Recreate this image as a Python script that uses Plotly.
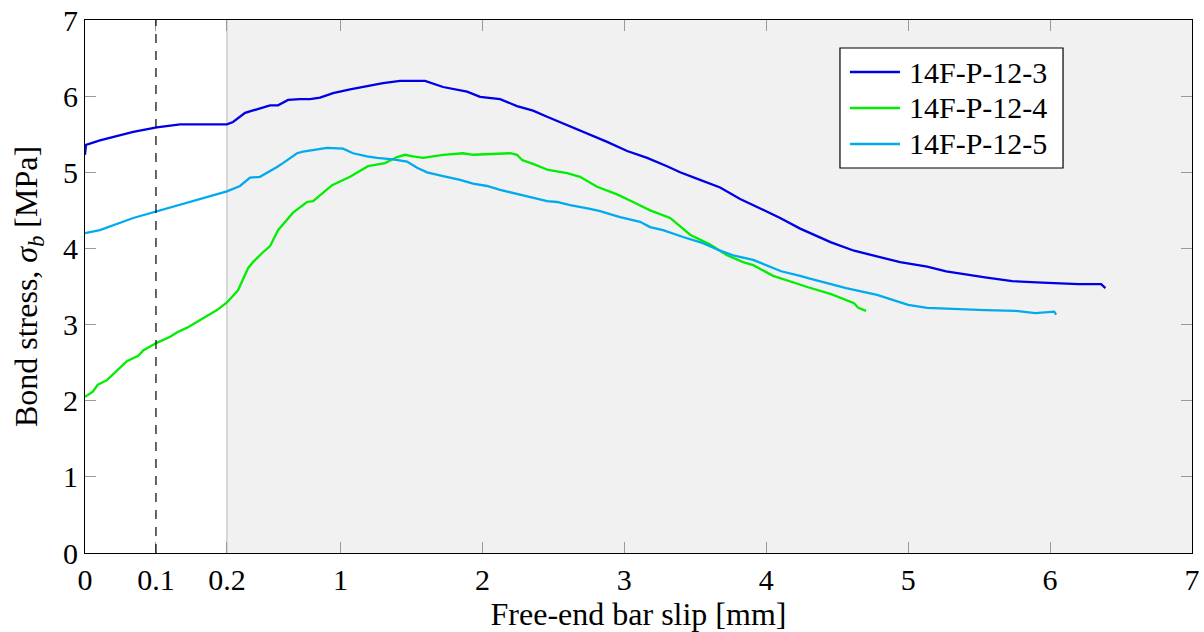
import plotly.graph_objects as go

# Free-end bar slip [mm] and bond stress [MPa] for each specimen
slip_p12_3 = [0.000, 0.0014, 0.021, 0.068, 0.101, 0.134, 0.200, 0.243, 0.328, 0.384, 0.504,
              0.560, 0.631, 0.715, 0.786, 0.856, 0.948, 1.068, 1.187, 1.300, 1.420, 1.490,
              1.596, 1.723, 1.892, 1.984, 2.125, 2.244, 2.357, 2.456, 2.597, 2.738, 2.879,
              3.020, 3.161, 3.301, 3.393, 3.534, 3.675, 3.816, 3.957, 4.098, 4.239, 4.457,
              4.619, 4.943, 5.134, 5.268, 5.542, 5.733, 5.944, 6.200, 6.360, 6.390]
stress_p12_3 = [5.23, 5.36, 5.42, 5.53, 5.59, 5.63, 5.63, 5.66, 5.78, 5.81, 5.88,
                5.88, 5.95, 5.96, 5.96, 5.98, 6.04, 6.09, 6.13, 6.17, 6.20, 6.20,
                6.20, 6.12, 6.06, 5.99, 5.96, 5.87, 5.81, 5.73, 5.62, 5.52, 5.40,
                5.28, 5.19, 5.08, 5.00, 4.90, 4.80, 4.65, 4.53, 4.40, 4.26, 4.08,
                3.97, 3.82, 3.76, 3.70, 3.62, 3.57, 3.55, 3.53, 3.53, 3.48]

slip_p12_4 = [0.000, 0.011, 0.018, 0.031, 0.059, 0.075, 0.082, 0.101, 0.120, 0.130, 0.144,
              0.158, 0.169, 0.186, 0.200, 0.278, 0.349, 0.384, 0.454, 0.504, 0.560, 0.666,
              0.764, 0.807, 0.941, 0.976, 1.068, 1.194, 1.314, 1.399, 1.455, 1.511, 1.582,
              1.723, 1.864, 1.934, 2.195, 2.244, 2.280, 2.357, 2.463, 2.597, 2.688, 2.808,
              2.949, 3.062, 3.182, 3.323, 3.464, 3.605, 3.724, 3.837, 3.908, 4.049, 4.239,
              4.295, 4.457, 4.619, 4.648, 4.704]
stress_p12_4 = [2.05, 2.12, 2.21, 2.27, 2.52, 2.59, 2.66, 2.76, 2.84, 2.90, 2.96,
                3.04, 3.10, 3.19, 3.29, 3.45, 3.74, 3.82, 3.95, 4.03, 4.24, 4.47,
                4.61, 4.62, 4.83, 4.86, 4.94, 5.08, 5.12, 5.20, 5.23, 5.21, 5.19,
                5.23, 5.25, 5.23, 5.25, 5.23, 5.16, 5.11, 5.03, 4.99, 4.94, 4.81,
                4.71, 4.61, 4.50, 4.40, 4.18, 4.05, 3.91, 3.82, 3.78, 3.64, 3.52,
                3.49, 3.40, 3.28, 3.22, 3.18]

slip_p12_5 = [0.000, 0.021, 0.068, 0.101, 0.134, 0.172, 0.200, 0.292, 0.363, 0.433, 0.483,
              0.553, 0.595, 0.694, 0.736, 0.807, 0.905, 1.018, 1.089, 1.187, 1.258, 1.371,
              1.469, 1.540, 1.610, 1.723, 1.843, 1.934, 2.033, 2.125, 2.216, 2.315, 2.456,
              2.526, 2.618, 2.759, 2.829, 2.970, 3.111, 3.182, 3.273, 3.414, 3.555, 3.675,
              3.767, 3.908, 4.006, 4.105, 4.239, 4.295, 4.563, 4.781, 5.000, 5.134, 5.542,
              5.754, 5.895, 6.029, 6.043]
stress_p12_5 = [4.20, 4.24, 4.40, 4.49, 4.58, 4.68, 4.75, 4.82, 4.93, 4.94, 4.99,
                5.07, 5.12, 5.25, 5.27, 5.29, 5.32, 5.31, 5.25, 5.21, 5.19, 5.17,
                5.14, 5.06, 5.00, 4.95, 4.90, 4.85, 4.82, 4.77, 4.73, 4.68, 4.62,
                4.61, 4.57, 4.52, 4.49, 4.41, 4.35, 4.28, 4.24, 4.15, 4.07, 3.97,
                3.91, 3.85, 3.78, 3.70, 3.64, 3.61, 3.48, 3.39, 3.26, 3.22, 3.19,
                3.18, 3.15, 3.17, 3.13]

series_names = ["14F-P-12-3", "14F-P-12-4", "14F-P-12-5"]
series_colors = ["#0000e6", "#00ee00", "#00aaee"]

# Tick positions on the slip axis (mm) and their labels
x_ticks_mm = [0, 0.1, 0.2, 1, 2, 3, 4, 5, 6, 7]
x_tick_labels = ["0", "0.1", "0.2", "1", "2", "3", "4", "5", "6", "7"]
y_ticks = [0, 1, 2, 3, 4, 5, 6, 7]

# The first 0.2 mm is stretched to one full unit of axis length
BREAK = 0.2


def axis_pos(x):
    return x / BREAK if x <= BREAK else x - BREAK + 1.0


FONT = "Liberation Serif"
FS_TICK = 30
FS_TITLE = 32
FS_LEGEND = 30

fig = go.Figure()
for xs, ys, name, color in zip([slip_p12_3, slip_p12_4, slip_p12_5],
                               [stress_p12_3, stress_p12_4, stress_p12_5],
                               series_names, series_colors):
    fig.add_trace(go.Scatter(x=[axis_pos(v) for v in xs], y=ys, mode="lines", name=name,
                             line=dict(color=color, width=2.3), showlegend=False))

x_max = axis_pos(7)

# Shaded region beyond 0.2 mm, its boundary, and the 0.1 mm marker
fig.add_shape(type="rect", xref="x", yref="y", x0=axis_pos(BREAK), x1=x_max, y0=0, y1=7,
              fillcolor="#f1f1f1", line_width=0, layer="below")
fig.add_shape(type="line", xref="x", yref="y", x0=axis_pos(BREAK), x1=axis_pos(BREAK), y0=0, y1=7,
              line=dict(color="#c4c4c4", width=1.2), layer="below")
fig.add_shape(type="line", xref="x", yref="y", x0=axis_pos(0.1), x1=axis_pos(0.1), y0=0, y1=7,
              line=dict(color="black", width=1.2, dash="9px,8px"), layer="above")

# Legend box
lg_x0, lg_x1, lg_y0, lg_y1 = 0.682, 0.8835, 0.7223, 0.9475
fig.add_shape(type="rect", xref="paper", yref="paper", x0=lg_x0, x1=lg_x1, y0=lg_y0, y1=lg_y1,
              fillcolor="white", line=dict(color="black", width=1.2), layer="above")
row_y = [0.9024, 0.8349, 0.7674]
for ry, name, color in zip(row_y, series_names, series_colors):
    fig.add_shape(type="line", xref="paper", yref="paper", x0=0.691, x1=0.7362, y0=ry, y1=ry,
                  line=dict(color=color, width=2.3), layer="above")
    fig.add_annotation(xref="paper", yref="paper", x=0.7425, y=ry, text=name, showarrow=False,
                       xanchor="left", yanchor="middle",
                       font=dict(family=FONT, size=FS_LEGEND, color="black"))

fig.update_xaxes(range=[0, x_max], tickvals=[axis_pos(v) for v in x_ticks_mm], ticktext=x_tick_labels,
                 ticks="inside", ticklen=11, tickwidth=1, tickcolor="#9a9a9a",
                 showline=True, linecolor="black", linewidth=1.2, mirror="allticks",
                 showgrid=False, zeroline=False, automargin=False,
                 title=dict(text="Free-end bar slip [mm]", font=dict(family=FONT, size=FS_TITLE)),
                 tickfont=dict(family=FONT, size=FS_TICK, color="black"))
fig.update_yaxes(range=[0, 7], tickvals=y_ticks,
                 ticks="inside", ticklen=11, tickwidth=1, tickcolor="#9a9a9a",
                 showline=True, linecolor="black", linewidth=1.2, mirror="allticks",
                 showgrid=False, zeroline=False, automargin=False,
                 title=dict(text="Bond stress, <i>σ<sub>b</sub></i> [MPa]", font=dict(family=FONT, size=FS_TITLE)),
                 tickfont=dict(family=FONT, size=FS_TICK, color="black"))

fig.update_layout(width=1204, height=632, margin=dict(l=85, r=12, t=20, b=79),
                  paper_bgcolor="white", plot_bgcolor="white",
                  font=dict(family=FONT, size=FS_TICK, color="black"))

fig.write_html("out.html")
